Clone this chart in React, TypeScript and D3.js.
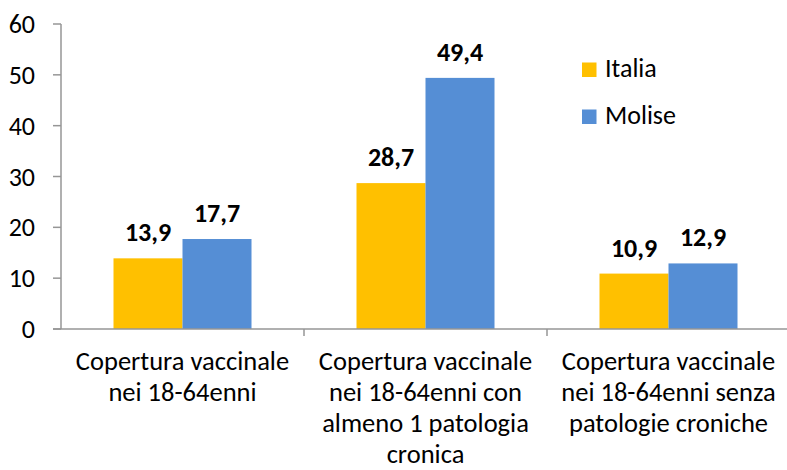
import React from "react";
import * as d3 from "d3";

const categories: string[][] = [
  ["Copertura vaccinale", "nei 18-64enni"],
  ["Copertura vaccinale", "nei 18-64enni con", "almeno 1 patologia", "cronica"],
  ["Copertura vaccinale", "nei 18-64enni senza", "patologie croniche"],
];
const seriesNames = ["Italia", "Molise"];
const italia = [13.9, 28.7, 10.9];
const molise = [17.7, 49.4, 12.9];
const yTicks = [0, 10, 20, 30, 40, 50, 60];
const colors = ["#FFC000", "#558ED5"];

export default function App() {
  const W = 787, H = 470;
  const x0 = 61, x1 = 790, yTop = 24, yBot = 329;
  const font = "Carlito, Calibri, 'Open Sans', 'Liberation Sans', sans-serif";
  const x = d3.scaleBand<number>().domain([0, 1, 2]).range([x0, x1]);
  const y = d3.scaleLinear().domain([0, 60]).range([yBot, yTop]);
  const barW = 69;
  const series = [italia, molise];
  return (
    <svg width={W} height={H} style={{ position: "absolute", left: 0, top: 0 }} fontFamily={font}>
      <rect width={W} height={H} fill="#fff" />
      {series.map((s, si) =>
        s.map((v, i) => {
          const cx = x(i)! + x.bandwidth() / 2;
          const bx = cx - barW + si * barW;
          return (
            <g key={`${si}-${i}`}>
              <rect x={bx} y={y(v)} width={barW} height={yBot - y(v)} fill={colors[si]} />
              <text x={bx + barW / 2} y={y(v) - 17} textAnchor="middle" fontSize={26} fontWeight="bold" fill="#000">
                {v.toFixed(1).replace(".", ",")}
              </text>
            </g>
          );
        })
      )}
      {/* y axis */}
      <line x1={x0} x2={x0} y1={yTop} y2={yBot} stroke="#969696" strokeWidth={1.5} />
      {yTicks.map((t) => (
        <g key={t}>
          <line x1={x0 - 8} x2={x0} y1={y(t)} y2={y(t)} stroke="#969696" strokeWidth={1.5} />
          <text x={35} y={y(t)} dy="0.35em" textAnchor="end" fontSize={26} fill="#000">{t}</text>
        </g>
      ))}
      {/* x axis */}
      <line x1={x0 - 8} x2={W} y1={yBot} y2={yBot} stroke="#969696" strokeWidth={1.5} />
      {[1, 2].map((i) => (
        <line key={i} x1={x(i)!} x2={x(i)!} y1={yBot} y2={yBot + 7} stroke="#969696" strokeWidth={1.5} />
      ))}
      {categories.map((lines, i) => (
        <text key={i} x={x(i)! + x.bandwidth() / 2} textAnchor="middle" fontSize={26.5} fill="#000">
          {lines.map((l, j) => (
            <tspan key={j} x={x(i)! + x.bandwidth() / 2} y={370 + j * 31}>{l}</tspan>
          ))}
        </text>
      ))}
      {/* legend */}
      {seriesNames.map((n, i) => (
        <g key={n}>
          <rect x={582} y={62.5 + i * 47} width={14.5} height={14.5} fill={colors[i]} />
          <text x={605} y={77 + i * 47} fontSize={26} fill="#000">{n}</text>
        </g>
      ))}
    </svg>
  );
}
